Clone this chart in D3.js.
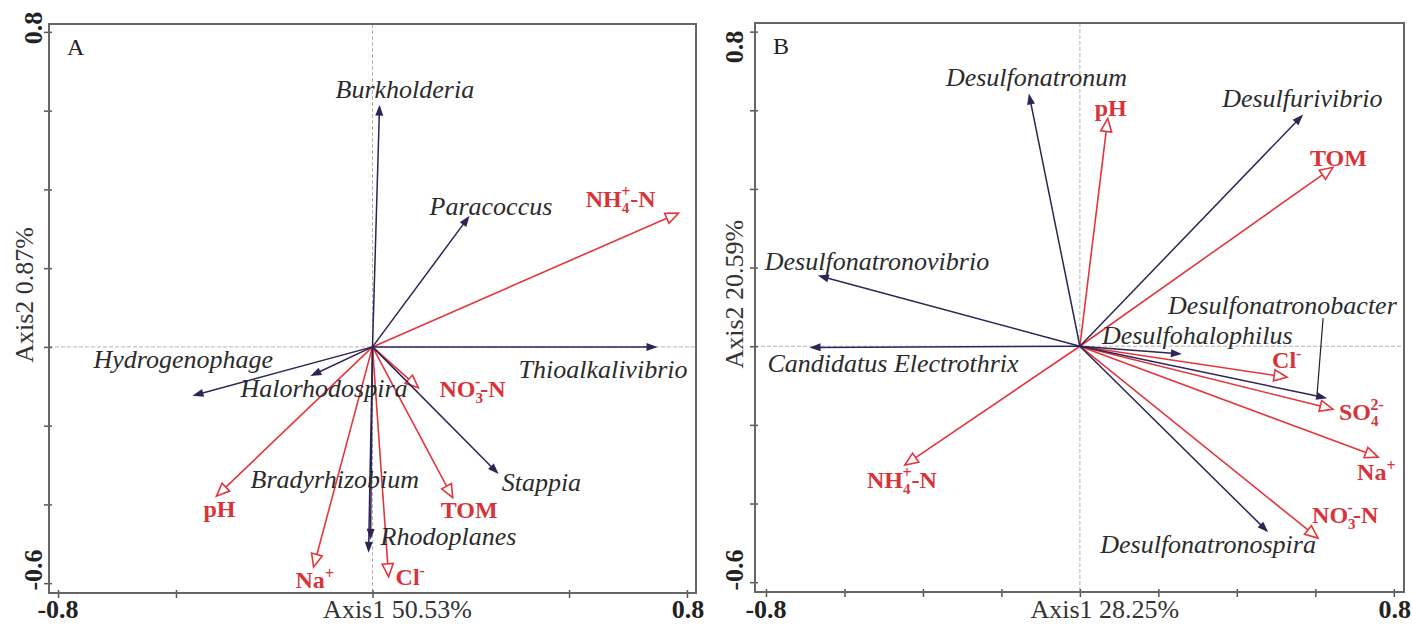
<!DOCTYPE html>
<html>
<head>
  <meta charset="utf-8">
  <title>RDA biplots</title>
  <style>
    body { margin: 0; background: #fff; }
    svg { display: block; font-family: "Liberation Serif", "Times New Roman", serif; }
    .frame { fill: none; stroke: #666; stroke-width: 2; }
    .zero { stroke: #b4b4b4; stroke-width: 1; stroke-dasharray: 4,2; }
    .tick line { stroke: #555; stroke-width: 1.5; }
    .sp-line { stroke: #2e2455; stroke-width: 1.5; }
    .sp-head { fill: #2e2455; }
    .env-line { stroke: #e2363c; stroke-width: 1.6; }
    .env-head { fill: #fff; stroke: #e2363c; stroke-width: 1.6; }
    .sp-label { font-style: italic; font-size: 26px; fill: #2b2b2b; }
    .env-label { font-weight: bold; font-size: 24px; fill: #d9333a; }
    .tick-label { font-weight: bold; font-size: 26px; fill: #222; }
    .axis-title { font-size: 26px; fill: #333; }
    .panel-letter { font-size: 24px; fill: #222; }
  </style>
</head>
<body>
  <svg width="1412" height="625"></svg>

  <script src="https://d3js.org/d3.v7.min.js"></script>
  <script>
    // ---- panel A data (bacteria genera vs environment) ----
    var speciesA = ['Burkholderia', 'Paracoccus', 'Thioalkalivibrio', 'Stappia',
      'Rhodoplanes', 'Bradyrhizobium', 'Halorhodospira', 'Hydrogenophage'];
    var speciesAx = [0.018, 0.247, 0.725, 0.321, -0.010, -0.005, -0.158, -0.458];
    var speciesAy = [0.615, 0.333, 0.000, -0.323, -0.523, -0.490, -0.074, -0.124];

    var envA = ['pH', 'Na+', 'Cl-', 'TOM', 'NO3--N', 'NH4+-N'];
    var envAx = [-0.397, -0.150, 0.041, 0.204, 0.117, 0.779];
    var envAy = [-0.379, -0.559, -0.584, -0.383, -0.104, 0.340];

    // ---- panel B data (sulfate reducers vs environment) ----
    var speciesB = ['Desulfonatronum', 'Desulfurivibrio', 'Desulfonatronovibrio',
      'Candidatus Electrothrix', 'Desulfohalophilus', 'Desulfonatronobacter', 'Desulfonatronospira'];
    var speciesBx = [-0.130, 0.569, -0.668, -0.689, 0.260, 0.630, 0.480];
    var speciesBy = [0.643, 0.589, 0.180, -0.003, -0.020, -0.132, -0.473];

    var envB = ['pH', 'TOM', 'Cl-', 'SO42-', 'Na+', 'NO3--N', 'NH4+-N'];
    var envBx = [0.071, 0.645, 0.528, 0.645, 0.760, 0.607, -0.446];
    var envBy = [0.579, 0.455, -0.079, -0.160, -0.282, -0.488, -0.302];

    // axis ticks / titles
    var ticksAx = [-0.8, -0.5, 0, 0.5, 0.8];
    var ticksBx = [-0.8, -0.6, -0.4, -0.2, 0, 0.2, 0.4, 0.6, 0.8];
    var ticksY = [-0.6, -0.4, -0.2, 0, 0.2, 0.4, 0.6, 0.8];
    var axisTitlesA = ['Axis1 50.53%', 'Axis2 0.87%'];
    var axisTitlesB = ['Axis1 28.25%', 'Axis2 20.59%'];

    // label placement, pixel offset of text start/baseline from arrow tip
    var spOffsetA = [[-44, -7], [-40, -1], [-139, 31], [3, 17], [12, -8], [-120, -52], [-70, 21], [-99, -28]];
    var envOffsetA = [[-13, 21], [-18, 21], [7, 8], [-12, 20], [21, 9], [-93, -6]];
    var spOffsetB = [[-83, -7], [-81, -8], [-53, -5], [-42, 25], [-80, -10], [-159, -84], [-168, 21]];
    var envOffsetB = [[-13, -3], [-23, -1], [-15, -9], [6, 11], [-21, 23], [-6, -15], [-38, 23]];

    // rich text pieces for chemical names
    var chem = {
      'Na+': [['Na'], ['+', 'sup']],
      'Cl-': [['Cl'], ['-', 'sup']],
      'NO3--N': [['NO'], ['3', 'sub'], ['-', 'supStack'], ['-N', 'back']],
      'NH4+-N': [['NH'], ['4', 'sub'], ['+', 'supStack'], ['-N', 'back']],
      'SO42-': [['SO'], ['4', 'sub'], ['2-', 'supStack']]
    };

    var svg = d3.select('svg');

    drawPanel({
      letter: 'A', left: 49, right: 696, top: 24, bottom: 593,
      xDomain: [-0.823, 0.823], yDomain: [-0.625, 0.82], xTicks: ticksAx,
      species: speciesA, spx: speciesAx, spy: speciesAy, spOff: spOffsetA,
      env: envA, envx: envAx, envy: envAy, envOff: envOffsetA,
      titles: axisTitlesA, yTitleX: 33, yTickX: 42, yTopLabel: 28, yBotLabel: 570
    });

    drawPanel({
      letter: 'B', left: 755, right: 1404, top: 23, bottom: 592,
      xDomain: [-0.828, 0.826], yDomain: [-0.625, 0.822], xTicks: ticksBx,
      species: speciesB, spx: speciesBx, spy: speciesBy, spOff: spOffsetB,
      env: envB, envx: envBx, envy: envBy, envOff: envOffsetB,
      titles: axisTitlesB, yTitleX: 743, yTickX: 743, yTopLabel: 47, yBotLabel: 570
    });

    function drawPanel(p) {
      var x = d3.scaleLinear().domain(p.xDomain).range([p.left, p.right]);
      var y = d3.scaleLinear().domain(p.yDomain).range([p.bottom, p.top]);
      var g = svg.append('g');

      // zero reference lines
      g.append('line').attr('class', 'zero')
        .attr('x1', x(0)).attr('x2', x(0)).attr('y1', p.top).attr('y2', p.bottom);
      g.append('line').attr('class', 'zero')
        .attr('x1', p.left).attr('x2', p.right).attr('y1', y(0)).attr('y2', y(0));

      // ticks (labels drawn separately, only the extremes are labelled)
      var ax = g.append('g').attr('transform', 'translate(0,' + p.bottom + ')')
        .call(d3.axisBottom(x).tickValues(p.xTicks).tickSize(5).tickSizeOuter(0).tickFormat(''));
      ax.select('.domain').remove();
      ax.selectAll('.tick line').attr('y1', -3);
      var ay = g.append('g').attr('transform', 'translate(' + p.left + ',0)')
        .call(d3.axisLeft(y).tickValues(ticksY).tickSize(5).tickSizeOuter(0).tickFormat(''));
      ay.select('.domain').remove();
      ay.selectAll('.tick line').attr('x1', 3);

      g.append('rect').attr('class', 'frame')
        .attr('x', p.left).attr('y', p.top)
        .attr('width', p.right - p.left).attr('height', p.bottom - p.top);

      // tick labels
      var xd = p.xTicks[0], xu = p.xTicks[p.xTicks.length - 1];
      g.append('text').attr('class', 'tick-label').attr('text-anchor', 'middle')
        .attr('x', x(xd)).attr('y', 618).text(d3.format('.1f')(xd).replace('\u2212', '-'));
      g.append('text').attr('class', 'tick-label').attr('text-anchor', 'middle')
        .attr('x', x(xu) + 1).attr('y', 618).text(d3.format('.1f')(xu));
      g.append('text').attr('class', 'tick-label').attr('text-anchor', 'middle')
        .attr('transform', 'translate(' + p.yTickX + ',' + p.yTopLabel + ') rotate(-90)')
        .text(d3.format('.1f')(ticksY[ticksY.length - 1]));
      g.append('text').attr('class', 'tick-label').attr('text-anchor', 'middle')
        .attr('transform', 'translate(' + p.yTickX + ',' + p.yBotLabel + ') rotate(-90)')
        .text(d3.format('.1f')(ticksY[0]).replace('\u2212', '-'));

      // axis titles
      g.append('text').attr('class', 'axis-title').attr('text-anchor', 'middle')
        .attr('x', x(0) + 25).attr('y', 618).text(p.titles[0]);
      g.append('text').attr('class', 'axis-title').attr('text-anchor', 'middle')
        .attr('transform', 'translate(' + p.yTitleX + ',' + (y(0) - 52) + ') rotate(-90)')
        .text(p.titles[1]);

      g.append('text').attr('class', 'panel-letter')
        .attr('x', p.left + 18).attr('y', p.top + 31).text(p.letter);

      var ox = x(0), oy = y(0);

      // environment arrows (red, open heads)
      p.env.forEach(function(name, i) {
        var tx = x(p.envx[i]), ty = y(p.envy[i]);
        arrow(g, ox, oy, tx, ty, 13, 5.5, 'env');
        var t = g.append('text').attr('class', 'env-label')
          .attr('x', tx + p.envOff[i][0]).attr('y', ty + p.envOff[i][1]);
        richText(t, name);
      });

      // species arrows (navy, filled heads)
      p.species.forEach(function(name, i) {
        var tx = x(p.spx[i]), ty = y(p.spy[i]);
        arrow(g, ox, oy, tx, ty, 11, 4, 'sp');
        g.append('text').attr('class', 'sp-label')
          .attr('x', tx + p.spOff[i][0]).attr('y', ty + p.spOff[i][1]).text(name);
        if (name === 'Desulfonatronobacter') {
          // leader from label down to its arrow tip
          g.append('line').attr('stroke', '#222').attr('stroke-width', 1.2)
            .attr('x1', tx - 4).attr('y1', ty - 80).attr('x2', tx - 10).attr('y2', ty - 4);
        }
      });
    }

    function arrow(g, x0, y0, x1, y1, len, hw, kind) {
      var a = Math.atan2(y1 - y0, x1 - x0);
      var bx = x1 - len * Math.cos(a), by = y1 - len * Math.sin(a);
      var px = -Math.sin(a) * hw, py = Math.cos(a) * hw;
      g.append('line').attr('class', kind + '-line')
        .attr('x1', x0).attr('y1', y0)
        .attr('x2', kind === 'sp' ? x1 - 3 * Math.cos(a) : bx)
        .attr('y2', kind === 'sp' ? y1 - 3 * Math.sin(a) : by);
      g.append('path').attr('class', kind + '-head')
        .attr('d', 'M' + x1 + ',' + y1 + 'L' + (bx + px) + ',' + (by + py) +
          'L' + (bx - px) + ',' + (by - py) + 'Z');
    }

    function richText(t, name) {
      var parts = chem[name];
      if (!parts) { t.text(name); return; }
      var shift = 0, subW = 0;
      parts.forEach(function(pt) {
        var s = t.append('tspan').text(pt[0]);
        if (pt[1] === 'sub') {
          s.attr('font-size', 15).attr('dy', 6); shift = 6; subW = 8;
        } else if (pt[1] === 'supStack') {
          s.attr('font-size', 16).attr('dx', -subW).attr('dy', -16); shift = -10;
        } else if (pt[1] === 'sup') {
          s.attr('font-size', 16).attr('dy', -9); shift = -9;
        } else if (pt[1] === 'back') {
          s.attr('dy', -shift); shift = 0;
        }
      });
    }
  </script>
</body>
</html>
